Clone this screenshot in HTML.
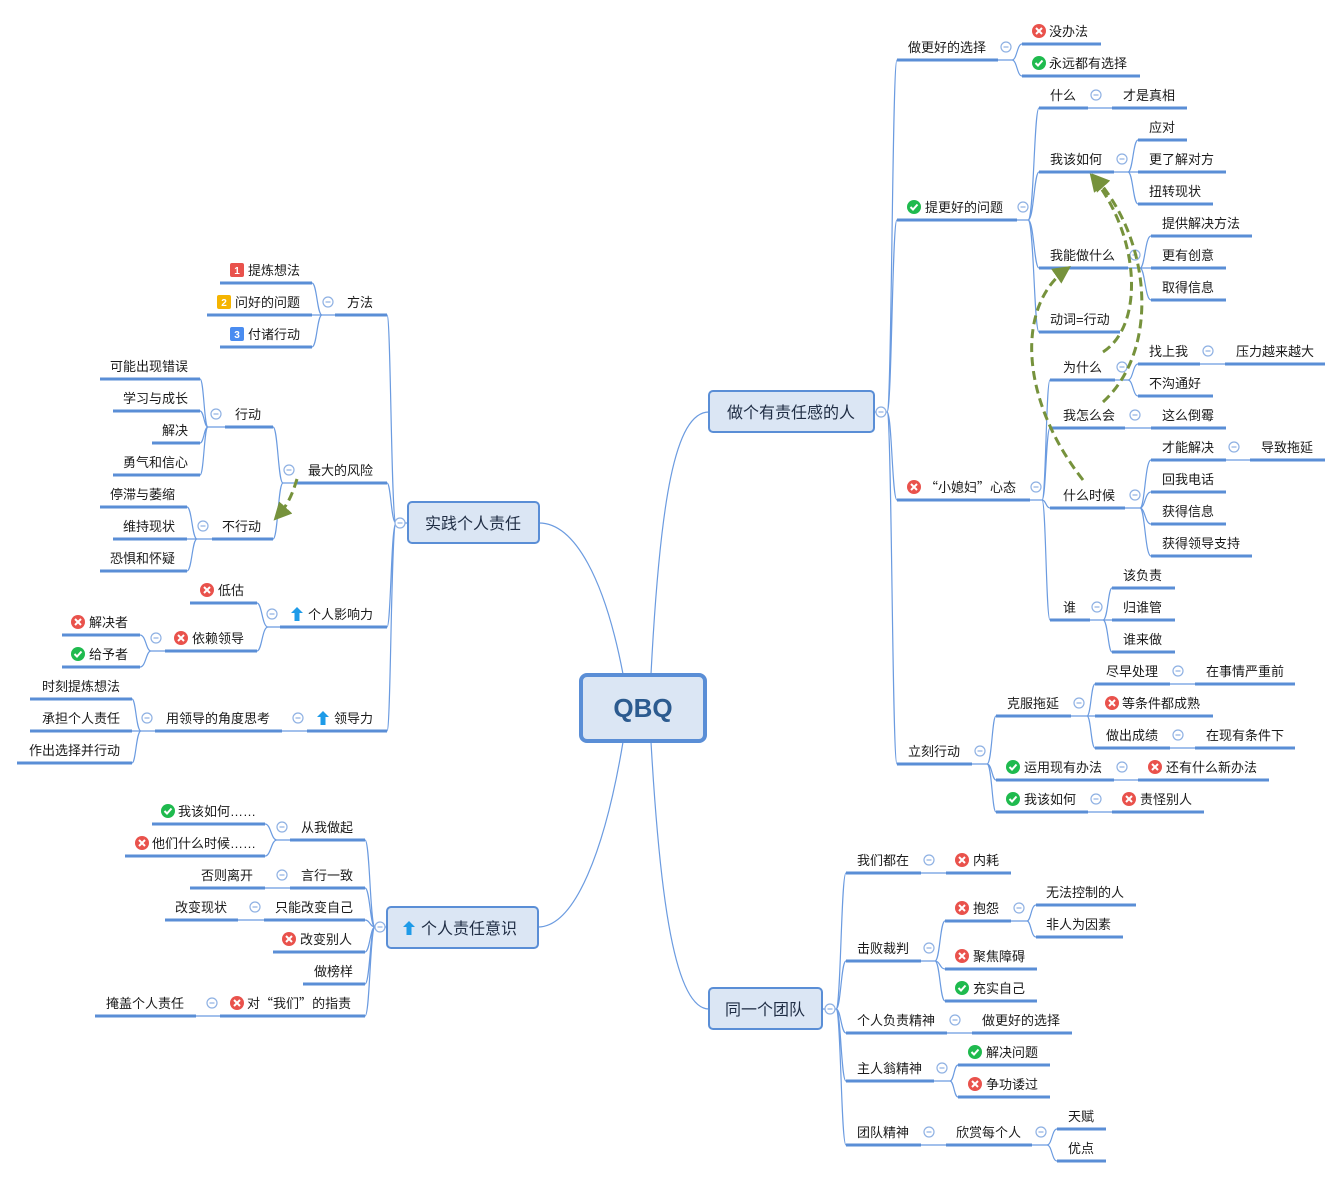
<!DOCTYPE html>
<html><head><meta charset="utf-8"><style>
html,body{margin:0;padding:0;background:#fff;}
svg{display:block;}
text{font-family:"Liberation Sans","Noto Sans CJK SC",sans-serif;font-size:13px;fill:#1a1a1a;}
.q{font-family:"Noto Sans CJK SC",sans-serif;}
.u{stroke:#5a8ed6;stroke-width:3;fill:none;}
.c{stroke:#6b9be0;stroke-width:1.2;fill:none;}
.r{text-anchor:end;}
.box{fill:#dbe6f4;stroke:#5a8ed6;stroke-width:2;}
.bt{font-size:16px;fill:#1f2d44;}
.dash{stroke:#76923c;stroke-width:3;fill:none;stroke-dasharray:9,5;}
</style></head><body>
<svg width="1343" height="1178" viewBox="0 0 1343 1178" xmlns="http://www.w3.org/2000/svg">
<defs>
<symbol id="ix" viewBox="-7 -7 14 14" overflow="visible"><circle r="7" fill="#e9524c"/><path d="M-3-3L3 3M3-3L-3 3" stroke="#fff" stroke-width="2"/></symbol>
<symbol id="iv" viewBox="-7 -7 14 14" overflow="visible"><circle r="7" fill="#1fba4e"/><path d="M-3.5 0L-1 2.5L3.5-2.5" stroke="#fff" stroke-width="2" fill="none"/></symbol>
<symbol id="iu" viewBox="-7 -7 14 14" overflow="visible"><path d="M0-7L6-1H2.5V7H-2.5V-1H-6Z" fill="#1e9be8"/></symbol>
<symbol id="cc" viewBox="-6 -6 12 12" overflow="visible"><circle r="5" fill="#fff" stroke="#8fb1e3" stroke-width="1.2"/><path d="M-2.5 0H2.5" stroke="#8fb1e3" stroke-width="1.2"/></symbol>
<marker id="ah" viewBox="0 0 10 10" refX="8" refY="5" markerWidth="6" markerHeight="6" orient="auto"><path d="M0 0L10 5L0 10Z" fill="#76923c"/></marker>
</defs>

<path class="c" d="M651 674 C660 500 675 412 709 412"/>
<path class="c" d="M623 674 C605 580 575 523 539 523"/>
<path class="c" d="M623 742 C605 850 575 927 538 927"/>
<path class="c" d="M651 742 C660 900 675 1009 709 1009"/>

<path class="c" d="M874 412H887 M887 412C892 412 892 60 897 60 M887 412C892 412 892 220 897 220 M887 412C892 412 892 500 897 500 M887 412C892 412 892 764 897 764"/>
<path class="c" d="M998 60H1012 M1012 60C1017 60 1017 44 1022 44 M1012 60C1017 60 1017 76 1022 76"/>
<path class="c" d="M1017 220H1028 M1028 220C1034 220 1034 108 1039 108 M1028 220C1034 220 1034 172 1039 172 M1028 220C1034 220 1034 268 1039 268 M1028 220C1034 220 1034 332 1039 332"/>
<path class="c" d="M1088 108H1112"/>
<path class="c" d="M1114 172H1128 M1128 172C1133 172 1133 140 1138 140 M1128 172H1138 M1128 172C1133 172 1133 204 1138 204"/>
<path class="c" d="M1128 268H1140 M1140 268C1145 268 1145 236 1151 236 M1140 268H1151 M1140 268C1145 268 1145 300 1151 300"/>
<path class="c" d="M1030 500H1042 M1042 500C1046 500 1046 380 1050 380 M1042 500C1046 500 1046 428 1050 428 M1042 500C1046 500 1046 508 1050 508 M1042 500C1046 500 1046 620 1050 620"/>
<path class="c" d="M1115 380H1128 M1128 380C1133 380 1133 364 1138 364 M1128 380C1133 380 1133 396 1138 396 M1200 364H1225 M1125 428H1151"/>
<path class="c" d="M1125 508H1140 M1140 508C1145 508 1145 460 1151 460 M1140 508C1145 508 1145 492 1151 492 M1140 508C1145 508 1145 524 1151 524 M1140 508C1145 508 1145 556 1151 556 M1226 460H1250"/>
<path class="c" d="M1090 620H1103 M1103 620C1108 620 1108 588 1112 588 M1103 620H1112 M1103 620C1108 620 1108 652 1112 652"/>
<path class="c" d="M972 764H987 M987 764C992 764 992 716 996 716 M987 764C992 764 992 780 996 780 M987 764C992 764 992 812 996 812"/>
<path class="c" d="M1071 716H1087 M1087 716C1091 716 1091 684 1095 684 M1087 716H1095 M1087 716C1091 716 1091 748 1095 748 M1170 684H1195 M1170 748H1195 M1114 780H1138 M1088 812H1112"/>
<path class="c" d="M822 1009H836 M836 1009C841 1009 841 873 846 873 M836 1009C841 1009 841 961 846 961 M836 1009C841 1009 841 1033 846 1033 M836 1009C841 1009 841 1081 846 1081 M836 1009C841 1009 841 1145 846 1145"/>
<path class="c" d="M921 873H946 M921 961H935 M935 961C940 961 940 921 945 921 M935 961C940 961 940 969 945 969 M935 961C940 961 940 1001 945 1001"/>
<path class="c" d="M1011 921H1027 M1027 921C1031 921 1031 905 1036 905 M1027 921C1031 921 1031 937 1036 937"/>
<path class="c" d="M947 1033H972 M934 1081H950 M950 1081C954 1081 954 1065 958 1065 M950 1081C954 1081 954 1097 958 1097"/>
<path class="c" d="M921 1145H946 M1032 1145H1047 M1047 1145C1052 1145 1052 1129 1057 1129 M1047 1145C1052 1145 1052 1161 1057 1161"/>

<path class="c" d="M408 523H396 M396 523C391 523 391 315 387 315 M396 523C391 523 391 483 387 483 M396 523C391 523 391 627 387 627 M396 523C391 523 391 731 387 731"/>
<path class="c" d="M335 315H322 M322 315C317 315 317 283 312 283 M322 315H312 M322 315C317 315 317 347 312 347"/>
<path class="c" d="M297 483H283 M283 483C278 483 278 427 273 427 M283 483C278 483 278 539 273 539"/>
<path class="c" d="M225 427H208 M208 427C204 427 204 379 200 379 M208 427C204 427 204 411 200 411 M208 427C204 427 204 443 200 443 M208 427C204 427 204 475 200 475"/>
<path class="c" d="M212 539H197 M197 539C192 539 192 507 187 507 M197 539H187 M197 539C192 539 192 571 187 571"/>
<path class="c" d="M280 627H268 M268 627C262 627 262 603 257 603 M268 627C262 627 262 651 257 651"/>
<path class="c" d="M165 651H151 M151 651C146 651 146 635 140 635 M151 651C146 651 146 667 140 667"/>
<path class="c" d="M307 731H282 M155 731H141 M141 731C136 731 136 699 132 699 M141 731H132 M141 731C136 731 136 763 132 763"/>
<path class="c" d="M387 927H375 M375 927C370 927 370 840 365 840 M375 927C370 927 370 888 365 888 M375 927C370 927 370 920 365 920 M375 927C370 927 370 952 365 952 M375 927C370 927 370 984 365 984 M375 927C370 927 370 1016 365 1016"/>
<path class="c" d="M290 840H277 M277 840C271 840 271 824 265 824 M277 840C271 840 271 856 265 856 M290 888H265 M264 920H238 M220 1016H196"/>

<path class="u" d="M897 60H998 M1022 44H1101 M1022 76H1140
M897 220H1017 M1039 108H1088 M1112 108H1187 M1039 172H1114 M1138 140H1187 M1138 172H1226 M1138 204H1213
M1039 268H1128 M1151 236H1252 M1151 268H1226 M1151 300H1226 M1039 332H1120
M897 500H1030 M1050 380H1115 M1138 364H1200 M1225 364H1325 M1138 396H1213 M1050 428H1125 M1151 428H1226
M1050 508H1125 M1151 460H1226 M1250 460H1325 M1151 492H1226 M1151 524H1226 M1151 556H1252
M1050 620H1090 M1112 588H1175 M1112 620H1175 M1112 652H1175
M897 764H972 M996 716H1071 M1095 684H1170 M1195 684H1295 M1095 716H1213 M1095 748H1170 M1195 748H1295
M996 780H1114 M1138 780H1269 M996 812H1088 M1112 812H1204
M846 873H921 M946 873H1011 M846 961H921 M945 921H1011 M1036 905H1136 M1036 937H1123 M945 969H1037 M945 1001H1037
M846 1033H947 M972 1033H1072 M846 1081H934 M958 1065H1050 M958 1097H1050
M846 1145H921 M946 1145H1032 M1057 1129H1106 M1057 1161H1106"/>
<path class="u" d="M335 315H387 M220 283H312 M207 315H312 M220 347H312
M297 483H387 M225 427H273 M100 379H200 M113 411H200 M152 443H200 M113 475H200
M212 539H273 M100 507H187 M113 539H187 M100 571H187
M280 627H387 M190 603H257 M165 651H257 M62 635H140 M62 667H140
M307 731H387 M155 731H282 M30 699H132 M30 731H132 M17 763H132
M290 840H365 M152 824H265 M125 856H265 M290 888H365 M190 888H265 M264 920H365 M165 920H238
M273 952H365 M303 984H365 M220 1016H365 M95 1016H196"/>

<rect class="box" x="709" y="391" width="165" height="41" rx="4"/>
<text class="bt" x="791" y="418" text-anchor="middle">做个有责任感的人</text>
<rect class="box" x="408" y="502" width="131" height="41" rx="4"/>
<text class="bt" x="473" y="529" text-anchor="middle">实践个人责任</text>
<rect class="box" x="387" y="907" width="151" height="41" rx="4"/>
<use href="#iu" x="402" y="921" width="14" height="14"/>
<text class="bt" x="421" y="934">个人责任意识</text>
<rect class="box" x="709" y="988" width="113" height="41" rx="4"/>
<text class="bt" x="765" y="1015" text-anchor="middle">同一个团队</text>
<rect x="581" y="675" width="124" height="66" rx="6" fill="#dbe6f4" stroke="#5a8ed6" stroke-width="4"/>
<text x="643" y="717" text-anchor="middle" style="font-size:26px;font-weight:bold;fill:#2c5b8f">QBQ</text>

<text x="908" y="52">做更好的选择</text>
<use href="#ix" x="1032" y="24" width="14" height="14"/><text x="1049" y="36">没办法</text>
<use href="#iv" x="1032" y="56" width="14" height="14"/><text x="1049" y="68">永远都有选择</text>
<use href="#iv" x="907" y="200" width="14" height="14"/><text x="925" y="212">提更好的问题</text>
<text x="1050" y="100">什么</text><text x="1123" y="100">才是真相</text>
<text x="1050" y="164">我该如何</text>
<text x="1149" y="132">应对</text><text x="1149" y="164">更了解对方</text><text x="1149" y="196">扭转现状</text>
<text x="1050" y="260">我能做什么</text>
<text x="1162" y="228">提供解决方法</text><text x="1162" y="260">更有创意</text><text x="1162" y="292">取得信息</text>
<text x="1050" y="324">动词=行动</text>
<use href="#ix" x="907" y="480" width="14" height="14"/><text x="925" y="492"><tspan class="q">“</tspan>小媳妇<tspan class="q">”</tspan>心态</text>
<text x="1063" y="372">为什么</text><text x="1149" y="356">找上我</text><text x="1236" y="356">压力越来越大</text>
<text x="1149" y="388">不沟通好</text>
<text x="1063" y="420">我怎么会</text><text x="1162" y="420">这么倒霉</text>
<text x="1063" y="500">什么时候</text>
<text x="1162" y="452">才能解决</text><text x="1261" y="452">导致拖延</text>
<text x="1162" y="484">回我电话</text><text x="1162" y="516">获得信息</text><text x="1162" y="548">获得领导支持</text>
<text x="1063" y="612">谁</text>
<text x="1123" y="580">该负责</text><text x="1123" y="612">归谁管</text><text x="1123" y="644">谁来做</text>
<text x="908" y="756">立刻行动</text>
<text x="1007" y="708">克服拖延</text>
<text x="1106" y="676">尽早处理</text><text x="1206" y="676">在事情严重前</text>
<use href="#ix" x="1105" y="696" width="14" height="14"/><text x="1122" y="708">等条件都成熟</text>
<text x="1106" y="740">做出成绩</text><text x="1206" y="740">在现有条件下</text>
<use href="#iv" x="1006" y="760" width="14" height="14"/><text x="1024" y="772">运用现有办法</text>
<use href="#ix" x="1148" y="760" width="14" height="14"/><text x="1166" y="772">还有什么新办法</text>
<use href="#iv" x="1006" y="792" width="14" height="14"/><text x="1024" y="804">我该如何</text>
<use href="#ix" x="1122" y="792" width="14" height="14"/><text x="1140" y="804">责怪别人</text>

<text x="857" y="865">我们都在</text>
<use href="#ix" x="955" y="853" width="14" height="14"/><text x="973" y="865">内耗</text>
<text x="857" y="953">击败裁判</text>
<use href="#ix" x="955" y="901" width="14" height="14"/><text x="973" y="913">抱怨</text>
<text x="1046" y="897">无法控制的人</text><text x="1046" y="929">非人为因素</text>
<use href="#ix" x="955" y="949" width="14" height="14"/><text x="973" y="961">聚焦障碍</text>
<use href="#iv" x="955" y="981" width="14" height="14"/><text x="973" y="993">充实自己</text>
<text x="857" y="1025">个人负责精神</text><text x="982" y="1025">做更好的选择</text>
<text x="857" y="1073">主人翁精神</text>
<use href="#iv" x="968" y="1045" width="14" height="14"/><text x="986" y="1057">解决问题</text>
<use href="#ix" x="968" y="1077" width="14" height="14"/><text x="986" y="1089">争功诿过</text>
<text x="857" y="1137">团队精神</text><text x="956" y="1137">欣赏每个人</text>
<text x="1068" y="1121">天赋</text><text x="1068" y="1153">优点</text>

<text class="r" x="373" y="307">方法</text>
<rect x="230" y="263" width="14" height="14" rx="2" fill="#e9524c"/><text x="237" y="274" text-anchor="middle" style="font-size:10px;font-weight:bold;fill:#fff">1</text><text x="248" y="275">提炼想法</text>
<rect x="217" y="295" width="14" height="14" rx="2" fill="#f5b400"/><text x="224" y="306" text-anchor="middle" style="font-size:10px;font-weight:bold;fill:#fff">2</text><text x="235" y="307">问好的问题</text>
<rect x="230" y="327" width="14" height="14" rx="2" fill="#4a8cf0"/><text x="237" y="338" text-anchor="middle" style="font-size:10px;font-weight:bold;fill:#fff">3</text><text x="248" y="339">付诸行动</text>
<text class="r" x="373" y="475">最大的风险</text>
<text class="r" x="261" y="419">行动</text>
<text class="r" x="188" y="371">可能出现错误</text><text class="r" x="188" y="403">学习与成长</text><text class="r" x="188" y="435">解决</text><text class="r" x="188" y="467">勇气和信心</text>
<text class="r" x="261" y="531">不行动</text>
<text class="r" x="175" y="499">停滞与萎缩</text><text class="r" x="175" y="531">维持现状</text><text class="r" x="175" y="563">恐惧和怀疑</text>
<use href="#iu" x="290" y="607" width="14" height="14"/><text x="308" y="619">个人影响力</text>
<use href="#ix" x="200" y="583" width="14" height="14"/><text x="218" y="595">低估</text>
<use href="#ix" x="174" y="631" width="14" height="14"/><text x="192" y="643">依赖领导</text>
<use href="#ix" x="71" y="615" width="14" height="14"/><text x="89" y="627">解决者</text>
<use href="#iv" x="71" y="647" width="14" height="14"/><text x="89" y="659">给予者</text>
<use href="#iu" x="316" y="711" width="14" height="14"/><text x="334" y="723">领导力</text>
<text class="r" x="270" y="723">用领导的角度思考</text>
<text class="r" x="120" y="691">时刻提炼想法</text><text class="r" x="120" y="723">承担个人责任</text><text class="r" x="120" y="755">作出选择并行动</text>

<text class="r" x="353" y="832">从我做起</text>
<use href="#iv" x="161" y="804" width="14" height="14"/><text x="178" y="816">我该如何……</text>
<use href="#ix" x="135" y="836" width="14" height="14"/><text x="152" y="848">他们什么时候……</text>
<text class="r" x="353" y="880">言行一致</text><text class="r" x="253" y="880">否则离开</text>
<text class="r" x="353" y="912">只能改变自己</text><text class="r" x="227" y="912">改变现状</text>
<use href="#ix" x="282" y="932" width="14" height="14"/><text x="300" y="944">改变别人</text>
<text class="r" x="353" y="976">做榜样</text>
<use href="#ix" x="230" y="996" width="14" height="14"/><text x="247" y="1008">对<tspan class="q">“</tspan>我们<tspan class="q">”</tspan>的指责</text>
<text class="r" x="184" y="1008">掩盖个人责任</text>

<g>
<use href="#cc" x="1000" y="41" width="12" height="12"/>
<use href="#cc" x="1017" y="201" width="12" height="12"/>
<use href="#cc" x="1090" y="89" width="12" height="12"/>
<use href="#cc" x="1116" y="153" width="12" height="12"/>
<use href="#cc" x="1129" y="249" width="12" height="12"/>
<use href="#cc" x="1030" y="481" width="12" height="12"/>
<use href="#cc" x="1116" y="361" width="12" height="12"/>
<use href="#cc" x="1202" y="345" width="12" height="12"/>
<use href="#cc" x="1129" y="409" width="12" height="12"/>
<use href="#cc" x="1129" y="489" width="12" height="12"/>
<use href="#cc" x="1228" y="441" width="12" height="12"/>
<use href="#cc" x="1091" y="601" width="12" height="12"/>
<use href="#cc" x="974" y="745" width="12" height="12"/>
<use href="#cc" x="1073" y="697" width="12" height="12"/>
<use href="#cc" x="1172" y="665" width="12" height="12"/>
<use href="#cc" x="1172" y="729" width="12" height="12"/>
<use href="#cc" x="1116" y="761" width="12" height="12"/>
<use href="#cc" x="1090" y="793" width="12" height="12"/>
<use href="#cc" x="875" y="406" width="12" height="12"/>
<use href="#cc" x="824" y="1003" width="12" height="12"/>
<use href="#cc" x="923" y="854" width="12" height="12"/>
<use href="#cc" x="923" y="942" width="12" height="12"/>
<use href="#cc" x="1013" y="902" width="12" height="12"/>
<use href="#cc" x="949" y="1014" width="12" height="12"/>
<use href="#cc" x="936" y="1062" width="12" height="12"/>
<use href="#cc" x="923" y="1126" width="12" height="12"/>
<use href="#cc" x="1035" y="1126" width="12" height="12"/>
<use href="#cc" x="394" y="517" width="12" height="12"/>
<use href="#cc" x="322" y="296" width="12" height="12"/>
<use href="#cc" x="283" y="464" width="12" height="12"/>
<use href="#cc" x="210" y="408" width="12" height="12"/>
<use href="#cc" x="197" y="520" width="12" height="12"/>
<use href="#cc" x="266" y="608" width="12" height="12"/>
<use href="#cc" x="150" y="632" width="12" height="12"/>
<use href="#cc" x="292" y="712" width="12" height="12"/>
<use href="#cc" x="141" y="712" width="12" height="12"/>
<use href="#cc" x="374" y="921" width="12" height="12"/>
<use href="#cc" x="276" y="821" width="12" height="12"/>
<use href="#cc" x="276" y="869" width="12" height="12"/>
<use href="#cc" x="249" y="901" width="12" height="12"/>
<use href="#cc" x="206" y="997" width="12" height="12"/>
</g>

<path class="dash" d="M1083 480 C1020 400 1015 305 1068 268" marker-end="url(#ah)"/>
<path class="dash" d="M1103 352 C1145 325 1140 235 1092 176" marker-end="url(#ah)"/>
<path class="dash" d="M1103 402 C1160 350 1152 240 1094 176" marker-end="url(#ah)"/>
<path class="dash" d="M297 479 C292 495 288 505 276 518" marker-end="url(#ah)"/>
</svg>
</body></html>
